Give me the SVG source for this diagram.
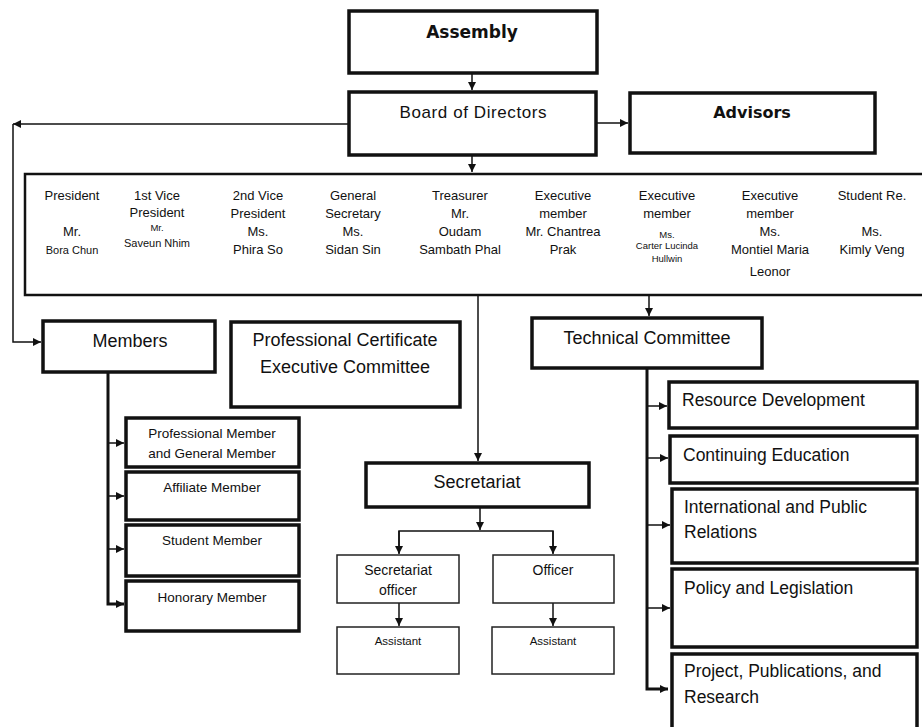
<svg xmlns="http://www.w3.org/2000/svg" width="922" height="727" viewBox="0 0 922 727">
  <defs>
    <marker id="arrow" markerUnits="userSpaceOnUse" markerWidth="9" markerHeight="9" refX="8" refY="4" orient="auto">
      <path d="M0,0 L8,4 L0,8 z" fill="#111"/>
    </marker>
    <style>
      .box { fill: #fff; stroke: #111; stroke-width: 3.5; }
      .thin { fill: #fff; stroke: #222; stroke-width: 1.5; }
      .mid { fill: #fff; stroke: #111; stroke-width: 2.5; }
      .line { fill: none; stroke: #111; stroke-width: 1.5; }
      .trunk { fill: none; stroke: #111; stroke-width: 3; }
      text { font-family: "Liberation Sans", Arial, sans-serif; fill: #111; }
      .head { font-family: "DejaVu Sans", Verdana, sans-serif; font-weight: bold; text-anchor: middle; }
      .c { text-anchor: middle; }
      .l18 { font-size: 18px; }
      .t13 { font-size: 13px; text-anchor: middle; }
      .t11 { font-size: 11px; text-anchor: middle; }
      .t9 { font-size: 9.5px; text-anchor: middle; }
      .m13 { font-size: 13.5px; text-anchor: middle; }
      .s14 { font-size: 14px; text-anchor: middle; }
      .a12 { font-size: 11.5px; text-anchor: middle; }
      .tc { font-size: 17.5px; }
    </style>
  </defs>

  <!-- connectors -->
  <g id="connectors">
    <line class="line" x1="472" y1="73" x2="472" y2="90" marker-end="url(#arrow)"/>
    <line class="line" x1="596" y1="123" x2="628" y2="123" marker-end="url(#arrow)"/>
    <line class="line" x1="349" y1="124" x2="13" y2="124" marker-end="url(#arrow)"/>
    <polyline class="line" points="13,124 13,342 41,342" marker-end="url(#arrow)"/>
    <line class="line" x1="472" y1="155" x2="472" y2="172" marker-end="url(#arrow)"/>
    <line class="line" x1="478" y1="296" x2="478" y2="461" marker-end="url(#arrow)"/>
    <line class="line" x1="649" y1="296" x2="649" y2="316" marker-end="url(#arrow)"/>
    <!-- members branch -->
    <polyline class="trunk" points="108,372 108,604 124,604" marker-end="url(#arrow)"/>
    <line class="line" x1="108" y1="443" x2="124" y2="443" marker-end="url(#arrow)"/>
    <line class="line" x1="108" y1="496" x2="124" y2="496" marker-end="url(#arrow)"/>
    <line class="line" x1="108" y1="549" x2="124" y2="549" marker-end="url(#arrow)"/>
    <!-- secretariat branch -->
    <line class="line" x1="480" y1="507" x2="480" y2="530" marker-end="url(#arrow)"/>
    <polyline class="line" points="399,553 399,531 553,531 553,553"/>
    <line class="line" x1="399" y1="531" x2="399" y2="554" marker-end="url(#arrow)"/>
    <line class="line" x1="553" y1="531" x2="553" y2="554" marker-end="url(#arrow)"/>
    <line class="line" x1="399" y1="603" x2="399" y2="626" marker-end="url(#arrow)"/>
    <line class="line" x1="553" y1="603" x2="553" y2="626" marker-end="url(#arrow)"/>
    <!-- technical branch -->
    <polyline class="trunk" points="647,368 647,689 668,689" marker-end="url(#arrow)"/>
    <line class="line" x1="647" y1="406" x2="667" y2="406" marker-end="url(#arrow)"/>
    <line class="line" x1="647" y1="458" x2="668" y2="458" marker-end="url(#arrow)"/>
    <line class="line" x1="647" y1="525" x2="670" y2="525" marker-end="url(#arrow)"/>
    <line class="line" x1="647" y1="608" x2="670" y2="608" marker-end="url(#arrow)"/>
  </g>

  <g id="assembly">
    <rect class="box" x="349" y="11" width="248" height="62"/>
    <text class="head" x="472" y="38" font-size="17">Assembly</text>
  </g>

  <g id="board">
    <rect class="box" x="349" y="92" width="247" height="63"/>
    <text class="c" x="473" y="118" font-size="17" textLength="147">Board of Directors</text>
  </g>

  <g id="advisors">
    <rect class="box" x="630" y="93" width="245" height="60"/>
    <text class="head" x="752" y="118" font-size="16">Advisors</text>
  </g>

  <g id="officers">
    <rect class="mid" x="25" y="174" width="910" height="121"/>
    <text class="t13" x="72" y="200">President</text>
    <text class="t13" x="72" y="236">Mr.</text>
    <text class="t11" x="72" y="254">Bora Chun</text>

    <text class="t13" x="157" y="200">1st Vice</text>
    <text class="t13" x="157" y="217">President</text>
    <text class="t9" x="157" y="231">Mr.</text>
    <text class="t11" x="157" y="247">Saveun Nhim</text>

    <text class="t13" x="258" y="200">2nd Vice</text>
    <text class="t13" x="258" y="218">President</text>
    <text class="t13" x="258" y="236">Ms.</text>
    <text class="t13" x="258" y="254">Phira So</text>

    <text class="t13" x="353" y="200">General</text>
    <text class="t13" x="353" y="218">Secretary</text>
    <text class="t13" x="353" y="236">Ms.</text>
    <text class="t13" x="353" y="254">Sidan Sin</text>

    <text class="t13" x="460" y="200">Treasurer</text>
    <text class="t13" x="460" y="218">Mr.</text>
    <text class="t13" x="460" y="236">Oudam</text>
    <text class="t13" x="460" y="254">Sambath Phal</text>

    <text class="t13" x="563" y="200">Executive</text>
    <text class="t13" x="563" y="218">member</text>
    <text class="t13" x="563" y="236">Mr. Chantrea</text>
    <text class="t13" x="563" y="254">Prak</text>

    <text class="t13" x="667" y="200">Executive</text>
    <text class="t13" x="667" y="218">member</text>
    <text class="t9" x="667" y="238">Ms.</text>
    <text class="t9" x="667" y="249">Carter Lucinda</text>
    <text class="t9" x="667" y="262">Hullwin</text>

    <text class="t13" x="770" y="200">Executive</text>
    <text class="t13" x="770" y="218">member</text>
    <text class="t13" x="770" y="236">Ms.</text>
    <text class="t13" x="770" y="254">Montiel Maria</text>
    <text class="t13" x="770" y="276">Leonor</text>

    <text class="t13" x="872" y="200">Student Re.</text>
    <text class="t13" x="872" y="236">Ms.</text>
    <text class="t13" x="872" y="254">Kimly Veng</text>
  </g>

  <g id="members">
    <rect class="box" x="43" y="321" width="172" height="51"/>
    <text class="c l18" x="130" y="347">Members</text>
  </g>

  <g id="professional-certificate">
    <rect class="box" x="231" y="322" width="229" height="85"/>
    <text class="c l18" x="345" y="346">Professional Certificate</text>
    <text class="c l18" x="345" y="373">Executive Committee</text>
  </g>

  <g id="member-professional">
    <rect class="box" x="126" y="418" width="173" height="49"/>
    <text class="m13" x="212" y="438">Professional Member</text>
    <text class="m13" x="212" y="458">and  General Member</text>
  </g>
  <g id="member-affiliate">
    <rect class="box" x="126" y="472" width="173" height="48"/>
    <text class="m13" x="212" y="492">Affiliate Member</text>
  </g>
  <g id="member-student">
    <rect class="box" x="126" y="525" width="173" height="51"/>
    <text class="m13" x="212" y="545">Student Member</text>
  </g>
  <g id="member-honorary">
    <rect class="box" x="126" y="581" width="173" height="50"/>
    <text class="m13" x="212" y="602">Honorary Member</text>
  </g>

  <g id="secretariat">
    <rect class="box" x="366" y="463" width="223" height="44"/>
    <text class="c l18" x="477" y="488">Secretariat</text>
  </g>
  <g id="secretariat-officer">
    <rect class="thin" x="337" y="555" width="122" height="48"/>
    <text class="s14" x="398" y="575">Secretariat</text>
    <text class="s14" x="398" y="595">officer</text>
  </g>
  <g id="officer">
    <rect class="thin" x="493" y="555" width="121" height="48"/>
    <text class="s14" x="553" y="575">Officer</text>
  </g>
  <g id="assistant-1">
    <rect class="thin" x="337" y="627" width="122" height="47"/>
    <text class="a12" x="398" y="645">Assistant</text>
  </g>
  <g id="assistant-2">
    <rect class="thin" x="492" y="627" width="122" height="47"/>
    <text class="a12" x="553" y="645">Assistant</text>
  </g>

  <g id="technical-committee">
    <rect class="box" x="532" y="318" width="230" height="50"/>
    <text class="c l18" x="647" y="344">Technical Committee</text>
  </g>
  <g id="resource-development">
    <rect class="box" x="669" y="382" width="248" height="46"/>
    <text class="tc" x="682" y="406">Resource Development</text>
  </g>
  <g id="continuing-education">
    <rect class="box" x="670" y="436" width="247" height="47"/>
    <text class="tc" x="683" y="461">Continuing Education</text>
  </g>
  <g id="international-relations">
    <rect class="box" x="672" y="489" width="245" height="74"/>
    <text class="tc" x="684" y="513">International and Public</text>
    <text class="tc" x="684" y="538">Relations</text>
  </g>
  <g id="policy-legislation">
    <rect class="box" x="672" y="569" width="245" height="78"/>
    <text class="tc" x="684" y="594">Policy and Legislation</text>
  </g>
  <g id="project-publications">
    <rect class="box" x="672" y="654" width="245" height="80"/>
    <text class="tc" x="684" y="677">Project, Publications, and</text>
    <text class="tc" x="684" y="703">Research</text>
  </g>
</svg>
